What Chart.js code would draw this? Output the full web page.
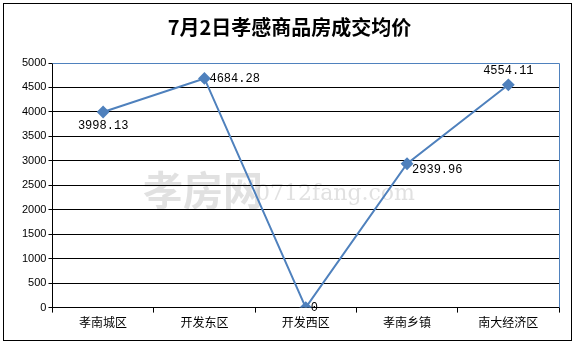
<!DOCTYPE html>
<html>
<head>
<meta charset="utf-8">
<script src="https://cdn.jsdelivr.net/npm/chart.js@4.4.1/dist/chart.umd.min.js"></script>
<style>
  html, body { margin: 0; padding: 0; background: #fff; }
  #wrap { width: 575px; height: 344px; position: relative; }
</style>
</head>
<body>
<div id="wrap"><canvas id="priceChart" width="575" height="344"></canvas></div>
<script>
const categories = ['孝南城区', '开发东区', '开发西区', '孝南乡镇', '南大经济区'];
const prices = [3998.13, 4684.28, 0, 2939.96, 4554.11];
const labelSides = ['below', 'right', 'right', 'right', 'above'];

const lineColor = '#4f81bd';

// outer frame, plot border, watermark
const framePlugin = {
    id: 'frame',
    beforeDraw(chart) {
        const c = chart.ctx;
        c.save();
        c.fillStyle = '#fff';
        c.fillRect(0, 0, chart.width, chart.height);
        c.strokeStyle = '#000';
        c.lineWidth = 1;
        c.strokeRect(3.5, 3.5, chart.width - 7, chart.height - 7);
        // watermark
        c.fillStyle = 'rgba(200,200,200,0.55)';
        c.font = 'bold 40px "Noto Sans CJK SC"';
        c.textBaseline = 'middle';
        c.fillText('孝房网', 143, 190);
        c.font = '22px "DejaVu Serif"';
        c.fillText('0712fang.com', 256, 194);
        c.restore();
    },
    afterDatasetsDraw(chart) {
        const c = chart.ctx;
        const a = chart.chartArea;
        c.save();
        c.strokeStyle = lineColor;
        c.lineWidth = 1;
        c.beginPath();
        c.moveTo(a.left, a.top + 0.5);
        c.lineTo(a.right + 0.5, a.top + 0.5);
        c.lineTo(a.right + 0.5, a.bottom);
        c.stroke();
        // data labels
        const meta = chart.getDatasetMeta(0);
        c.fillStyle = '#000';
        c.font = '12px "Liberation Mono"';
        c.textBaseline = 'middle';
        meta.data.forEach((pt, i) => {
            const txt = String(prices[i]);
            const side = labelSides[i];
            const w = c.measureText(txt).width;
            let x = pt.x, y = pt.y;
            if (side === 'below') { x -= w / 2; y += 14; }
            else if (side === 'above') { x -= w / 2; y -= 14; }
            else { x += 5; y += (i === 3 ? 6 : 0); }
            c.fillText(txt, x, y);
        });
        c.restore();
    }
};

new Chart(document.getElementById('priceChart'), {
    type: 'line',
    data: {
        labels: categories,
        datasets: [{
            data: prices,
            borderColor: lineColor,
            backgroundColor: lineColor,
            borderWidth: 2,
            pointStyle: 'rectRot',
            pointRadius: 5,
            tension: 0,
            fill: false
        }]
    },
    options: {
        responsive: false,
        animation: false,
        layout: { padding: { left: 20, right: 16, top: 0, bottom: 11 } },
        plugins: {
            legend: { display: false },
            tooltip: { enabled: false },
            title: {
                display: true,
                text: '7月2日孝感商品房成交均价',
                color: '#000',
                font: { family: '"Noto Sans CJK SC"', size: 20, weight: 'bold' },
                padding: { top: 15, bottom: 24 }
            }
        },
        scales: {
            x: {
                offset: true,
                grid: {
                    offset: true,
                    drawOnChartArea: false,
                    color: '#000',
                    tickLength: 5
                },
                border: { color: '#000' },
                ticks: {
                    color: '#000',
                    padding: 3,
                    font: { family: '"Noto Sans CJK SC"', size: 12 }
                }
            },
            y: {
                min: 0,
                max: 5000,
                grid: { color: '#000', tickLength: 4 },
                border: { color: '#000' },
                ticks: {
                    stepSize: 500,
                    color: '#000',
                    padding: 2,
                    font: { family: '"Liberation Sans"', size: 11 },
                    callback: v => String(v)
                }
            }
        }
    },
    plugins: [framePlugin]
});
</script>
</body>
</html>
